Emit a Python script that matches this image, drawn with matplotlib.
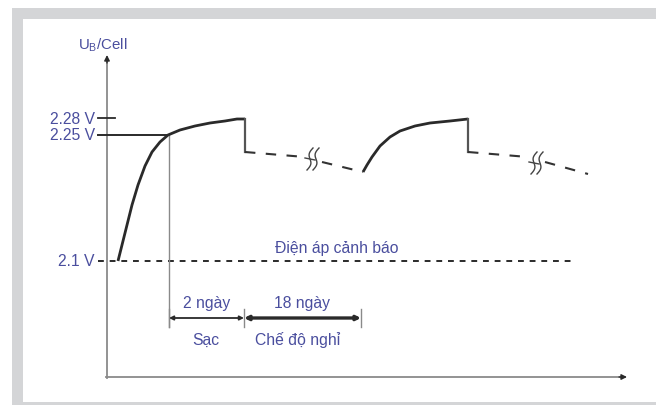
import numpy as np
import matplotlib
matplotlib.use("Agg")
import matplotlib.pyplot as plt
from matplotlib.patches import Rectangle

plt.rcParams['font.family'] = ['Liberation Sans', 'DejaVu Sans']

# schematic coordinates (pixel-like units, y grows downward)
charge1_x = [118, 122, 127, 132, 138, 145, 152, 160, 168, 180, 195, 210, 225, 237, 245]
charge1_y = [262, 246, 226, 206, 186, 167, 153, 143, 136, 131, 127, 124, 122, 120, 120]
charge2_x = [363, 367, 372, 380, 390, 400, 415, 430, 450, 468]
charge2_y = [173, 166, 158, 147, 138, 132, 127, 124, 122, 120]
rest_x = [[245, 305], [322, 363], [468, 528], [545, 588]]
rest_y = [[153, 158], [163, 173], [153, 158], [163, 175]]
drop_x = [245, 468]
break_x = [313, 537]
break_y = [160, 164]

level_labels = ["2.28 V", "2.25 V", "2.1 V"]
level_y = [119, 136, 262]
warn_label = "Điện áp cảnh báo"
axis_label = "U$_{\\mathregular{B}}$/Cell"
span_x = [169, 244, 361]
span_top = ["2 ngày", "18 ngày"]
span_bottom = ["Sạc", "Chế độ nghỉ"]

blue = '#4a4e9e'
dark = '#2a2a2a'
grey = '#8a8a8a'
fs = 11.3

fig = plt.figure(figsize=(6.56, 4.06), dpi=100)
ax = fig.add_axes([0, 0, 1, 1])
ax.set_xlim(0, 656)
ax.set_ylim(406, 0)
ax.axis('off')

# frame
ax.add_patch(Rectangle((12, 9), 644, 397, color='#d4d5d7', lw=0))
ax.add_patch(Rectangle((23, 20), 633, 383, color='white', lw=0))

# axes lines with dark arrowheads
ax.plot([107, 107], [379, 62], color=grey, lw=1.3)
ax.plot([106, 620], [378, 378], color=grey, lw=1.3)
ax.annotate('', xy=(107, 56), xytext=(107, 64),
            arrowprops=dict(arrowstyle='-|>', color=dark, lw=1.0,
                            mutation_scale=8, shrinkA=0, shrinkB=0))
ax.annotate('', xy=(627, 378), xytext=(619, 378),
            arrowprops=dict(arrowstyle='-|>', color=dark, lw=1.0,
                            mutation_scale=8, shrinkA=0, shrinkB=0))
ax.text(78, 45, axis_label, color=blue, fontsize=fs - 0.5, ha='left', va='center')

# level ticks and labels
for lab, y in zip(level_labels, level_y):
    ax.text(95, y, lab, color=blue, fontsize=fs, ha='right', va='center')
ax.plot([98, 115], [level_y[0], level_y[0]], color=dark, lw=1.3)
ax.plot([98, 168], [level_y[1], level_y[1]], color=dark, lw=1.4)
ax.plot([98, 575], [level_y[2], level_y[2]], color=dark, lw=1.4,
        dashes=(3, 3))
ax.text(337, 249, warn_label, color=blue, fontsize=fs, ha='center', va='center')

# reference vertical line from the 2.25 V point
ax.plot([span_x[0], span_x[0]], [level_y[1], 328], color=grey, lw=1.0)

# charge curves
ax.plot(charge1_x, charge1_y, color=dark, lw=2.0, solid_capstyle='butt')
ax.plot(charge2_x, charge2_y, color=dark, lw=2.0, solid_capstyle='butt')
for x in drop_x:
    ax.plot([x, x], [120, 153], color='#555555', lw=1.6)
for xs, ys in zip(rest_x, rest_y):
    ax.plot(xs, ys, color='#333333', lw=1.5, dashes=(5, 5))

# break symbols
t = np.linspace(-1, 1, 30)
for bx, by in zip(break_x, break_y):
    for off in (-3, 3):
        ax.plot(bx + off + 2.2 * np.sin(t * np.pi) - 3 * t, by + 11 * t,
                color='#444444', lw=1.0)
    ax.plot([bx - 8, bx + 2], [by - 1, by + 1], color='#444444', lw=1.0)

# time spans
for x in span_x:
    ax.plot([x, x], [310, 328], color=grey, lw=1.0)
ax.annotate('', xy=(span_x[0], 319), xytext=(span_x[1], 319),
            arrowprops=dict(arrowstyle='<|-|>', color=dark, lw=1.3,
                            mutation_scale=6, shrinkA=0, shrinkB=0))
ax.annotate('', xy=(span_x[1], 319), xytext=(span_x[2], 319),
            arrowprops=dict(arrowstyle='<|-|>', color=dark, lw=2.4,
                            mutation_scale=6, shrinkA=0, shrinkB=0))
for i in range(2):
    xc = (span_x[i] + span_x[i + 1]) / 2
    ax.text(xc, 304, span_top[i], color=blue, fontsize=fs, ha='center', va='center')
ax.text(206, 340, span_bottom[0], color=blue, fontsize=fs, ha='center', va='center')
ax.text(298, 340, span_bottom[1], color=blue, fontsize=fs, ha='center', va='center')

fig.savefig('out.png', dpi=100)
